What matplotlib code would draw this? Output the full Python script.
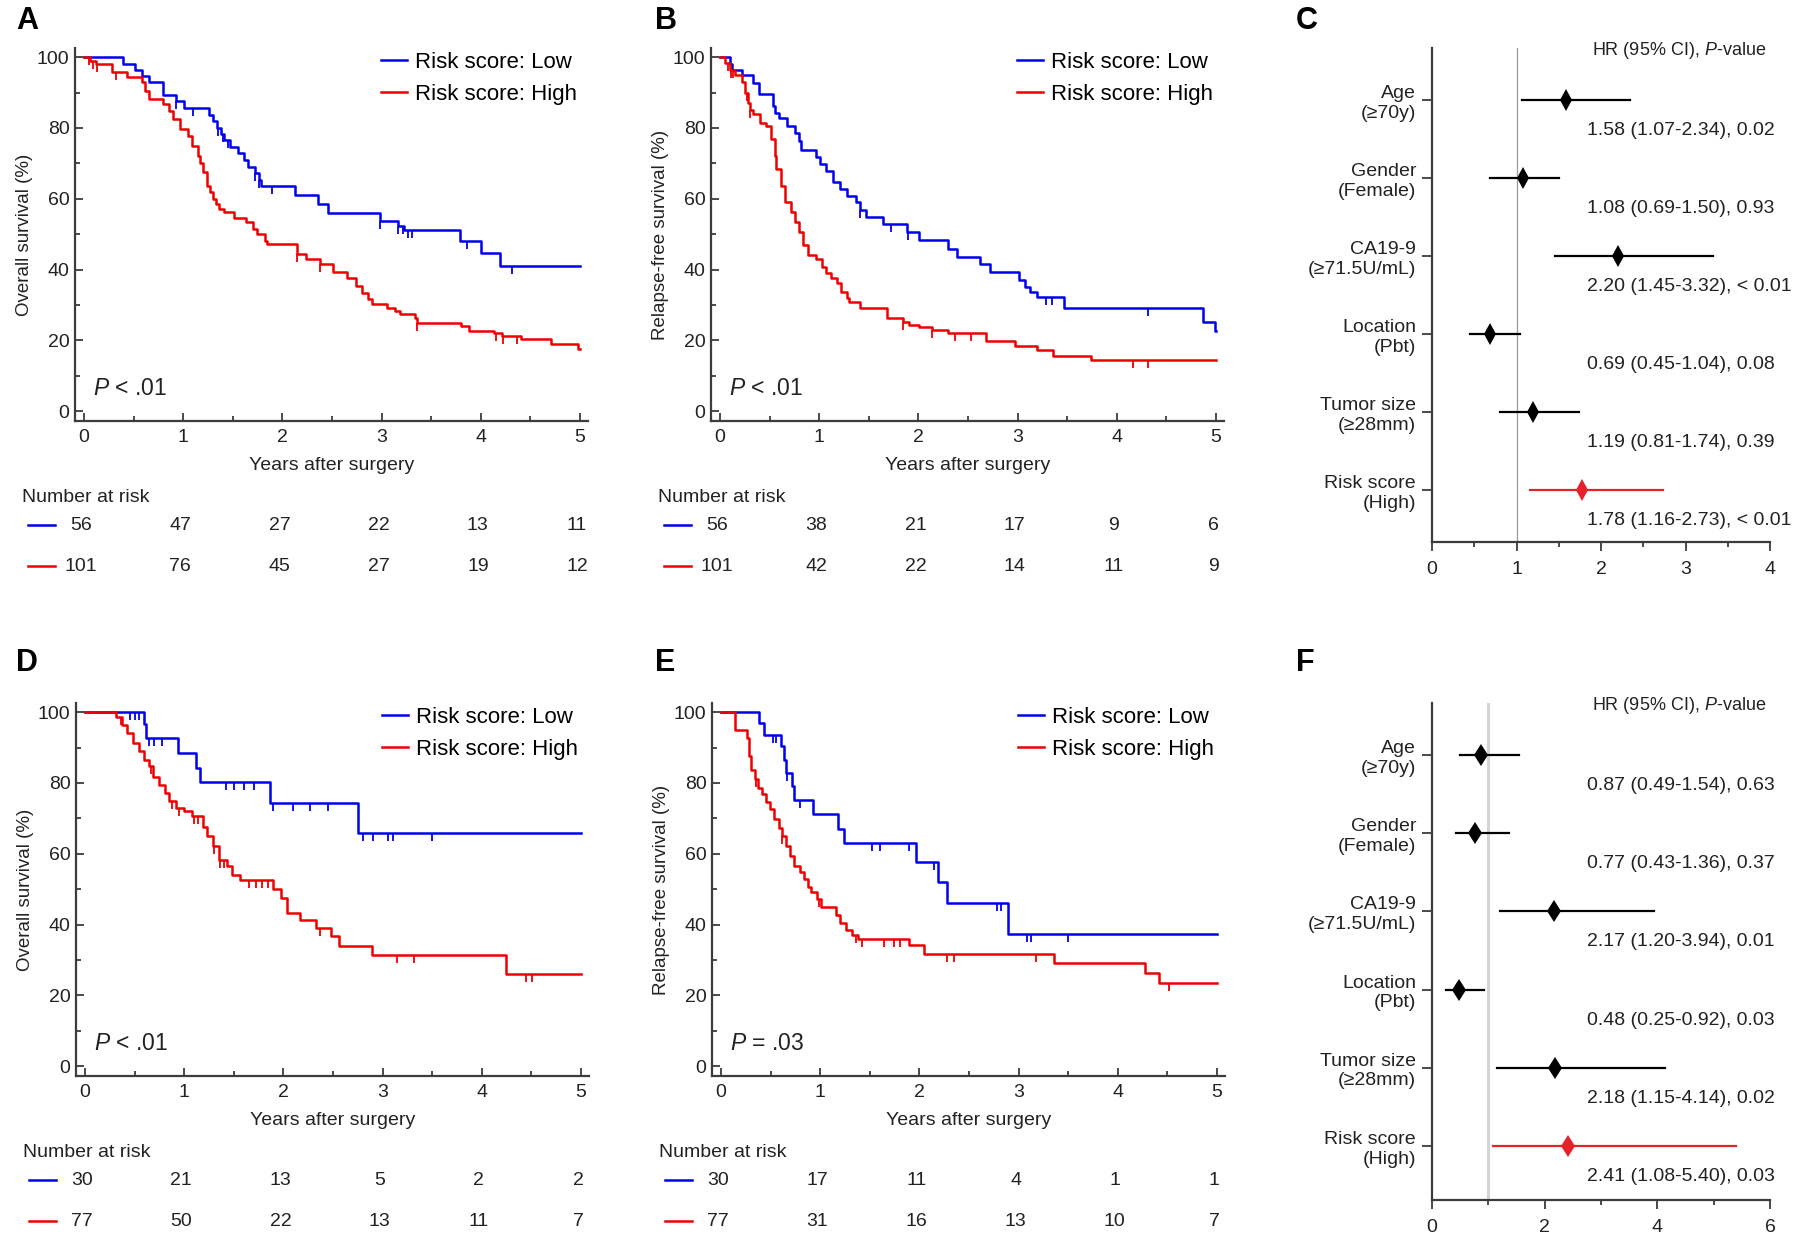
"""
Kaplan-Meier curves (A, B, D, E) and multivariable forest plots (C, F)
for the risk-score model, training cohort (top) and validation cohort (bottom).
"""
import numpy as np
import matplotlib
matplotlib.use("Agg")
import matplotlib.pyplot as plt
from matplotlib.lines import Line2D
from matplotlib.ticker import MultipleLocator
from matplotlib.transforms import blended_transform_factory

plt.rcParams["font.family"] = ["Liberation Sans", "DejaVu Sans"]
plt.rcParams["mathtext.fontset"] = "custom"
plt.rcParams["mathtext.it"] = "Liberation Sans:italic"
plt.rcParams["mathtext.rm"] = "Liberation Sans"

BLUE = "#0000ee"
RED = "#ee0000"
FRED = "#e8202a"
INK = "#222222"
AXC = "#3c3c3c"

# --------------------------------------------------------------------------
# KM data: event times (years), survival (%) right after each event, censors
# --------------------------------------------------------------------------
a_low_t = [0.39, 0.51, 0.59, 0.66, 0.80, 0.93, 1.01, 1.26, 1.30, 1.34, 1.38,
           1.41, 1.47, 1.55, 1.61, 1.65, 1.72, 1.76, 1.78, 2.13, 2.36, 2.46,
           2.98, 3.17, 3.23, 3.79, 4.00, 4.19]
a_low_s = [98.2, 96.4, 94.6, 92.9, 89.3, 87.5, 85.7, 83.8, 82.0, 80.1, 78.3,
           76.5, 74.6, 72.8, 70.9, 69.1, 67.2, 65.4, 63.5, 61.0, 58.5, 56.1,
           53.8, 52.2, 51.2, 48.0, 44.8, 41.0]
a_low_c = [0.93, 1.10, 1.35, 1.40, 1.45, 1.72, 1.76, 1.90, 2.98, 3.17, 3.22,
           3.27, 3.31, 3.86, 4.31]

a_high_t = [0.06, 0.12, 0.28, 0.43, 0.59, 0.62, 0.66, 0.80, 0.86, 0.90, 0.97,
            1.05, 1.09, 1.15, 1.17, 1.20, 1.24, 1.27, 1.30, 1.33, 1.36, 1.41,
            1.51, 1.63, 1.70, 1.74, 1.82, 1.84, 2.15, 2.24, 2.38, 2.51, 2.65,
            2.74, 2.80, 2.86, 2.90, 3.05, 3.13, 3.19, 3.34, 3.36, 3.80, 3.88,
            4.13, 4.21, 4.40, 4.71, 4.98]
a_high_s = [99.0, 98.0, 95.8, 94.3, 92.9, 90.5, 88.2, 86.8, 84.9, 82.5, 79.7,
            77.8, 75.0, 72.2, 70.0, 67.5, 63.7, 62.0, 60.0, 58.5, 57.0, 56.3,
            54.7, 53.3, 51.4, 50.0, 48.1, 47.2, 44.3, 42.9, 41.5, 39.2, 37.7,
            35.4, 33.5, 31.6, 30.2, 29.2, 28.3, 27.4, 26.4, 25.0, 24.1, 22.6,
            22.2, 21.2, 20.3, 18.9, 17.5]
a_high_c = [0.05, 0.09, 0.13, 0.32, 2.15, 2.38, 3.36, 4.15, 4.22, 4.36]

b_low_t = [0.10, 0.12, 0.22, 0.33, 0.39, 0.53, 0.55, 0.60, 0.68, 0.76, 0.80,
           0.82, 0.97, 1.01, 1.07, 1.14, 1.21, 1.28, 1.37, 1.41, 1.47, 1.64,
           1.89, 2.01, 2.30, 2.39, 2.62, 2.72, 3.01, 3.07, 3.12, 3.20, 3.47,
           4.87, 4.99]
b_low_s = [98.2, 96.4, 95.1, 92.8, 89.5, 86.2, 84.3, 82.7, 80.6, 78.7, 76.4,
           73.9, 71.7, 69.8, 67.9, 64.7, 62.8, 60.9, 59.0, 56.7, 54.8, 53.0,
           50.6, 48.3, 45.9, 43.6, 41.7, 39.4, 37.0, 35.2, 33.7, 32.3, 29.1,
           25.3, 22.5]
b_low_c = [1.41, 1.72, 1.90, 3.29, 3.35, 4.31]

b_high_t = [0.05, 0.10, 0.15, 0.22, 0.25, 0.28, 0.30, 0.33, 0.40, 0.46, 0.51,
            0.55, 0.57, 0.62, 0.66, 0.72, 0.76, 0.80, 0.84, 0.89, 0.97, 1.03,
            1.07, 1.12, 1.18, 1.22, 1.28, 1.30, 1.41, 1.68, 1.84, 1.91, 2.01,
            2.14, 2.30, 2.68, 2.97, 3.20, 3.36, 3.74]
b_high_s = [98.5, 96.5, 95.0, 93.0, 90.0, 87.0, 85.0, 84.0, 81.5, 80.6, 76.8,
            72.2, 68.4, 63.7, 59.0, 56.2, 53.4, 50.6, 46.8, 44.0, 43.1, 40.8,
            38.9, 37.5, 36.1, 33.7, 31.9, 30.9, 29.1, 26.2, 25.3, 24.4, 23.9,
            23.0, 22.0, 19.7, 18.3, 17.3, 15.5, 14.5]
b_high_c = [0.08, 0.11, 0.13, 0.27, 0.30, 1.84, 2.14, 2.37, 2.53, 4.16, 4.31]

d_low_t = [0.60, 0.62, 0.94, 1.12, 1.16, 1.87, 2.75]
d_low_s = [96.6, 92.6, 88.5, 84.3, 80.2, 74.3, 66.0]
d_low_c = [0.45, 0.50, 0.54, 0.65, 0.70, 0.78, 1.42, 1.50, 1.60, 1.70, 1.90,
           2.10, 2.27, 2.45, 2.80, 2.90, 3.05, 3.10, 3.50]

d_high_t = [0.31, 0.37, 0.42, 0.48, 0.54, 0.60, 0.65, 0.69, 0.75, 0.81, 0.85,
            0.92, 1.00, 1.08, 1.19, 1.23, 1.29, 1.35, 1.43, 1.48, 1.56, 1.90,
            1.98, 2.04, 2.17, 2.33, 2.48, 2.56, 2.89, 4.24]
d_high_s = [98.7, 96.5, 94.1, 91.3, 88.9, 86.5, 84.7, 81.8, 79.5, 77.1, 74.8,
            72.9, 72.0, 70.6, 67.7, 64.9, 62.1, 58.3, 56.4, 54.0, 52.7, 50.0,
            47.5, 43.3, 41.4, 39.0, 36.7, 33.9, 31.5, 25.9]
d_high_c = [0.36, 0.67, 0.88, 0.95, 1.10, 1.14, 1.30, 1.36, 1.40, 1.65, 1.72,
            1.78, 1.84, 2.37, 3.15, 3.32, 4.45, 4.51]

e_low_t = [0.38, 0.43, 0.61, 0.64, 0.66, 0.72, 0.74, 0.93, 1.18, 1.24, 1.97,
           2.19, 2.28, 2.89]
e_low_s = [96.9, 93.6, 90.4, 86.6, 82.9, 79.2, 75.2, 71.2, 67.0, 62.9, 57.6,
           52.0, 46.2, 37.3]
e_low_c = [0.52, 0.55, 0.67, 0.80, 1.52, 1.60, 1.90, 2.15, 2.78, 2.82, 3.08,
           3.12, 3.50]

e_high_t = [0.14, 0.26, 0.28, 0.30, 0.34, 0.37, 0.41, 0.45, 0.49, 0.53, 0.59,
            0.62, 0.66, 0.70, 0.74, 0.80, 0.84, 0.88, 0.91, 0.97, 1.01, 1.16,
            1.20, 1.26, 1.32, 1.38, 1.90, 2.05, 3.36, 4.27, 4.41]
e_high_s = [95.0, 92.7, 87.5, 83.8, 81.0, 78.7, 76.8, 74.5, 72.6, 69.8, 67.4,
            65.1, 62.3, 59.5, 56.6, 54.8, 52.9, 50.6, 49.2, 47.3, 44.9, 42.6,
            40.3, 38.4, 37.0, 36.0, 34.2, 31.8, 29.0, 26.2, 23.4]
e_high_c = [0.35, 0.62, 0.99, 1.36, 1.42, 1.64, 1.74, 1.80, 2.28, 2.35, 3.18,
            4.52]

# numbers at risk at 0..5 years
a_risk_low = [56, 47, 27, 22, 13, 11]
a_risk_high = [101, 76, 45, 27, 19, 12]
b_risk_low = [56, 38, 21, 17, 9, 6]
b_risk_high = [101, 42, 22, 14, 11, 9]
d_risk_low = [30, 21, 13, 5, 2, 2]
d_risk_high = [77, 50, 22, 13, 11, 7]
e_risk_low = [30, 17, 11, 4, 1, 1]
e_risk_high = [77, 31, 16, 13, 10, 7]

# --------------------------------------------------------------------------
# Forest data (multivariable Cox)
# --------------------------------------------------------------------------
forest_labels = ["Age\n(≥70y)", "Gender\n(Female)", "CA19-9\n(≥71.5U/mL)",
                 "Location\n(Pbt)", "Tumor size\n(≥28mm)", "Risk score\n(High)"]
c_hr = [1.58, 1.08, 2.20, 0.69, 1.19, 1.78]
c_lo = [1.07, 0.69, 1.45, 0.45, 0.81, 1.16]
c_hi = [2.34, 1.50, 3.32, 1.04, 1.74, 2.73]
c_p = ["0.02", "0.93", "< 0.01", "0.08", "0.39", "< 0.01"]
f_hr = [0.87, 0.77, 2.17, 0.48, 2.18, 2.41]
f_lo = [0.49, 0.43, 1.20, 0.25, 1.15, 1.08]
f_hi = [1.54, 1.36, 3.94, 0.92, 4.14, 5.40]
f_p = ["0.63", "0.37", "0.01", "0.03", "0.02", "0.03"]

W, H = 1800, 1248


def px_axes(fig, left, top, right, bottom):
    return fig.add_axes([left / W, 1 - bottom / H, (right - left) / W,
                         (bottom - top) / H])


def km_panel(ax, low, high, ylabel, ptxt, risk_low, risk_high):
    for (t, s, c), col in zip((low, high), (BLUE, RED)):
        tt = np.r_[0.0, t, 5.0]
        ss = np.r_[100.0, s, s[-1]]
        ax.step(tt, ss, where="post", color=col, lw=1.8, zorder=3)
        idx = np.searchsorted(tt, c, side="right") - 1
        ax.plot(c, ss[idx], ls="none", marker=3, ms=6, mew=1.3, color=col,
                zorder=3)

    ax.set_xlim(-0.09, 5.08)
    ax.set_ylim(-2.8, 102.6)
    for sp in ("top", "right"):
        ax.spines[sp].set_visible(False)
    for sp in ("left", "bottom"):
        ax.spines[sp].set_color(AXC)
        ax.spines[sp].set_linewidth(1.6)
    ax.xaxis.set_major_locator(MultipleLocator(1))
    ax.xaxis.set_minor_locator(MultipleLocator(0.5))
    ax.yaxis.set_major_locator(MultipleLocator(20))
    ax.yaxis.set_minor_locator(MultipleLocator(10))
    ax.tick_params(which="both", direction="in", color=AXC, width=1.3,
                   labelsize=14, labelcolor=INK)
    ax.tick_params(which="major", length=6)
    ax.tick_params(which="minor", length=3.5)
    ax.tick_params(axis="x", pad=6)
    ax.tick_params(axis="y", pad=4)
    ax.set_ylabel(ylabel, fontsize=13.5, color=INK)
    ax.yaxis.set_label_coords(-0.082, 0.5)
    ax.text(2.5, -15.3, "Years after surgery", ha="center", va="center",
            fontsize=14, color=INK, clip_on=False)

    handles = [Line2D([], [], color=BLUE, lw=1.8),
               Line2D([], [], color=RED, lw=1.8)]
    ax.legend(handles, ["Risk score: Low", "Risk score: High"],
              loc="upper left", bbox_to_anchor=(0.597, 0.99), frameon=False,
              fontsize=16, handlelength=1.15, handletextpad=0.35,
              labelspacing=0.5, borderpad=0, borderaxespad=0)
    ax.text(0.09, 6.3, ptxt, ha="left", va="center", fontsize=16.5,
            color=INK)

    # number-at-risk table
    ax.text(-0.62, -24.3, "Number at risk", ha="left", va="center",
            fontsize=14, color=INK, clip_on=False)
    for yr, col, row in ((-32.2, BLUE, risk_low), (-43.8, RED, risk_high)):
        ax.plot([-0.565, -0.29], [yr, yr], color=col, lw=1.8, clip_on=False)
        for x, n in enumerate(row):
            ax.text(x - 0.03, yr, str(n), ha="center", va="center",
                    fontsize=14, color=INK, clip_on=False)


def forest_panel(ax, hr, lo, hi, pv, xmax, ylim, ref_lw, ref_col, dms):
    rows = np.arange(1, len(hr) + 1)
    ax.axvline(1, color=ref_col, lw=ref_lw, zorder=1)
    for r, h, l, u in zip(rows, hr, lo, hi):
        col = FRED if r == rows[-1] else "black"
        ax.plot([l, u], [r, r], color=col, lw=1.6, zorder=2)
        ax.plot(h, r, marker="d", ms=dms, mew=0, color=col, zorder=3)
    ax.set_xlim(0, xmax)
    ax.set_ylim(*ylim)
    ax.set_yticks(rows)
    ax.set_yticklabels(forest_labels)
    for sp in ("top", "right"):
        ax.spines[sp].set_visible(False)
    for sp in ("left", "bottom"):
        ax.spines[sp].set_color(AXC)
        ax.spines[sp].set_linewidth(1.6)
    ax.xaxis.set_major_locator(MultipleLocator(1 if xmax <= 4 else 2))
    ax.xaxis.set_minor_locator(MultipleLocator(0.5 if xmax <= 4 else 1))
    ax.tick_params(which="both", direction="out", color=AXC, width=1.3,
                   labelsize=14, labelcolor=INK)
    ax.tick_params(axis="y", length=7, pad=4.5)
    ax.tick_params(axis="x", which="major", length=6.5, pad=7)
    ax.tick_params(axis="x", which="minor", length=3.5)

    tr = blended_transform_factory(ax.transAxes, ax.transData)
    ax.text(0.473, 0.994, "HR (95% CI), $P$-value", transform=ax.transAxes,
            ha="left", va="center", fontsize=13, color=INK)
    for r, h, l, u, p in zip(rows, hr, lo, hi, pv):
        ax.text(0.458, r + 0.39, f"{h:.2f} ({l:.2f}-{u:.2f}), {p}",
                transform=tr, ha="left", va="center", fontsize=14,
                color=INK, clip_on=False)


fig = plt.figure(figsize=(W / 100, H / 100), dpi=100)

ax_a = px_axes(fig, 75, 48, 588, 421)
ax_b = px_axes(fig, 711, 48, 1224, 421)
ax_c = px_axes(fig, 1432, 48, 1770, 542)
ax_d = px_axes(fig, 76, 703, 589, 1076)
ax_e = px_axes(fig, 712, 703, 1225, 1076)
ax_f = px_axes(fig, 1432, 703, 1770, 1200)

km_panel(ax_a, (a_low_t, a_low_s, a_low_c), (a_high_t, a_high_s, a_high_c),
         "Overall survival (%)", "$P$ < .01", a_risk_low, a_risk_high)
km_panel(ax_b, (b_low_t, b_low_s, b_low_c), (b_high_t, b_high_s, b_high_c),
         "Relapse-free survival (%)", "$P$ < .01", b_risk_low, b_risk_high)
km_panel(ax_d, (d_low_t, d_low_s, d_low_c), (d_high_t, d_high_s, d_high_c),
         "Overall survival (%)", "$P$ < .01", d_risk_low, d_risk_high)
km_panel(ax_e, (e_low_t, e_low_s, e_low_c), (e_high_t, e_high_s, e_high_c),
         "Relapse-free survival (%)", "$P$ = .03", e_risk_low, e_risk_high)

forest_panel(ax_c, c_hr, c_lo, c_hi, c_p, 4, (6.667, 0.333), 0.9, "#9a9a9a",
             11)
forest_panel(ax_f, f_hr, f_lo, f_hi, f_p, 6, (6.69, 0.335), 2.2, "#d4d4d4",
             11.5)

for letter, x, y in (("A", 16, 21), ("B", 655, 21), ("C", 1296, 21),
                     ("D", 16, 663), ("E", 655, 663), ("F", 1296, 663)):
    fig.text(x / W, 1 - y / H, letter, ha="left", va="center",
             fontsize=22, fontweight="bold", color="black")

fig.savefig("out.png", dpi=100)
